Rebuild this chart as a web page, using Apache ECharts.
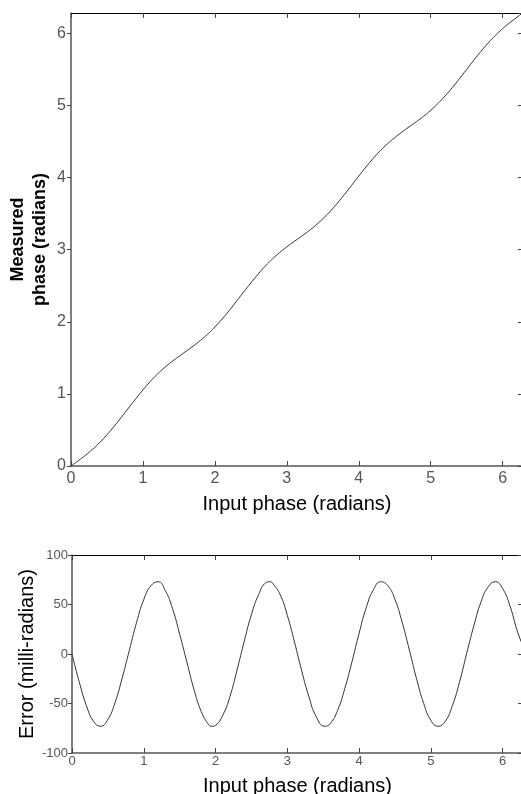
<!DOCTYPE html>
<html>
<head>
<meta charset="utf-8">
<script src="https://cdn.jsdelivr.net/npm/echarts@6/dist/echarts.min.js"></script>
<style>
  html, body { margin: 0; padding: 0; background: #fff; }
  #main { width: 521px; height: 794px; }
</style>
</head>
<body>
<div id="main"></div>
<script>
  // input phase samples (radians)
  var inputPhase = [0, 0.1, 0.2, 0.3, 0.4, 0.5, 0.6, 0.7, 0.8, 0.9,
    1.0, 1.1, 1.2, 1.3, 1.4, 1.5, 1.6, 1.7, 1.8, 1.9, 1.95,
    2.0, 2.1, 2.2, 2.3, 2.4, 2.5, 2.6, 2.7, 2.76, 2.8, 2.9,
    3.0, 3.1, 3.2, 3.3, 3.4, 3.52, 3.6, 3.7, 3.8, 3.9,
    4.0, 4.1, 4.2, 4.3, 4.4, 4.5, 4.6, 4.7, 4.8, 4.9,
    5.0, 5.1, 5.2, 5.3, 5.4, 5.5, 5.6, 5.7, 5.8, 5.9,
    6.0, 6.1, 6.2, 6.283];

  // measured phase (radians)
  var measuredPhase = [0, 0.072, 0.148, 0.232, 0.327, 0.434, 0.551, 0.676, 0.804, 0.932,
    1.055, 1.170, 1.273, 1.365, 1.446, 1.520, 1.592, 1.664, 1.742, 1.829, 1.877,
    1.928, 2.038, 2.157, 2.284, 2.413, 2.540, 2.660, 2.772, 2.833, 2.872, 2.960,
    3.039, 3.112, 3.183, 3.257, 3.337, 3.447, 3.530, 3.643, 3.765, 3.892,
    4.021, 4.147, 4.265, 4.373, 4.469, 4.555, 4.632, 4.704, 4.775, 4.850,
    4.933, 5.027, 5.132, 5.248, 5.372, 5.501, 5.629, 5.753, 5.868, 5.973,
    6.066, 6.149, 6.224, 6.290];

  // error (milli-radians)
  var errorMrad = [0, -28, -52, -68, -73, -66, -49, -24, 4, 32,
    55, 69, 73, 64, 46, 20, -8, -36, -58, -71, -73,
    -72, -62, -43, -16, 13, 40, 60, 72, 73, 71, 60,
    39, 12, -17, -43, -63, -73, -70, -57, -35, -8,
    21, 47, 65, 73, 69, 55, 32, 4, -25, -50,
    -67, -73, -68, -52, -28, 1, 29, 53, 68, 73,
    66, 49, 24, 8];

  var topData = [], botData = [];
  for (var i = 0; i < inputPhase.length; i++) {
    topData.push([inputPhase[i], measuredPhase[i]]);
    botData.push([inputPhase[i], errorMrad[i]]);
  }

  var FONT = 'Liberation Sans, Arial, sans-serif';
  var TWO_PI = 2 * Math.PI;

  function xMain(opts) {
    return Object.assign({
      type: 'value',
      interval: 1,
      axisLine: { show: true, onZero: false, lineStyle: { color: '#555', width: 1.5 } },
      axisTick: { show: true, inside: true, length: 5, lineStyle: { color: '#444' } },
      axisLabel: { color: '#555', fontFamily: FONT, fontSize: 16, margin: 5, showMaxLabel: false },
      splitLine: { show: false },
      nameLocation: 'middle',
      nameMoveOverlap: false,
      nameTextStyle: { color: '#000', fontFamily: FONT, fontSize: 20 }
    }, opts);
  }
  function yMain(opts) {
    return Object.assign({
      type: 'value',
      interval: 1,
      axisLine: { show: true, onZero: false, lineStyle: { color: '#555', width: 1.5 } },
      axisTick: { show: true, inside: false, length: 4, lineStyle: { color: '#444' } },
      axisLabel: { color: '#555', fontFamily: FONT, fontSize: 16, margin: 5, showMaxLabel: false },
      splitLine: { show: false },
      nameLocation: 'middle',
      nameMoveOverlap: false
    }, opts);
  }
  function mirror(opts) {
    return Object.assign({
      type: 'value',
      interval: 1,
      axisLine: { show: true, onZero: false, lineStyle: { color: '#000', width: 1 } },
      axisTick: { show: true, inside: true, length: 5, lineStyle: { color: '#444' } },
      axisLabel: { show: false },
      splitLine: { show: false }
    }, opts);
  }

  var smallLabel = { color: '#555', fontFamily: FONT, fontSize: 13, margin: 4, showMaxLabel: true };

  var chart = echarts.init(document.getElementById('main'));
  chart.setOption({
    animation: false,
    backgroundColor: '#fff',
    grid: [
      { left: 71, top: 13, right: -2, height: 453, outerBoundsMode: 'none', containLabel: false },
      { left: 72, top: 555, right: -2, height: 198, outerBoundsMode: 'none', containLabel: false }
    ],
    xAxis: [
      xMain({ gridIndex: 0, min: 0, max: TWO_PI, name: 'Input phase (radians)', nameGap: 28 }),
      mirror({ gridIndex: 0, min: 0, max: TWO_PI, position: 'top' }),
      xMain({ gridIndex: 1, min: 0, max: TWO_PI, name: 'Input phase (radians)', nameGap: 23,
        axisLabel: Object.assign({}, smallLabel, { showMaxLabel: false, margin: 2 }) }),
      mirror({ gridIndex: 1, min: 0, max: TWO_PI, position: 'top' })
    ],
    yAxis: [
      yMain({ gridIndex: 0, min: 0, max: TWO_PI, name: 'Measured\nphase (radians)', nameGap: 20,
        nameTextStyle: { color: '#000', fontFamily: FONT, fontSize: 18, fontWeight: 'bold', lineHeight: 22 } }),
      mirror({ gridIndex: 0, min: 0, max: TWO_PI, position: 'right' }),
      yMain({ gridIndex: 1, min: -100, max: 100, interval: 50, name: 'Error (milli-radians)', nameGap: 35,
        axisLabel: smallLabel,
        nameTextStyle: { color: '#000', fontFamily: FONT, fontSize: 20 } }),
      mirror({ gridIndex: 1, min: -100, max: 100, interval: 50, position: 'right' })
    ],
    series: [
      { type: 'line', xAxisIndex: 0, yAxisIndex: 0, data: topData, smooth: true,
        showSymbol: false, lineStyle: { color: '#333', width: 1 } },
      { type: 'line', xAxisIndex: 2, yAxisIndex: 2, data: botData, smooth: true,
        showSymbol: false, lineStyle: { color: '#333', width: 1 } }
    ]
  });
</script>
</body>
</html>
